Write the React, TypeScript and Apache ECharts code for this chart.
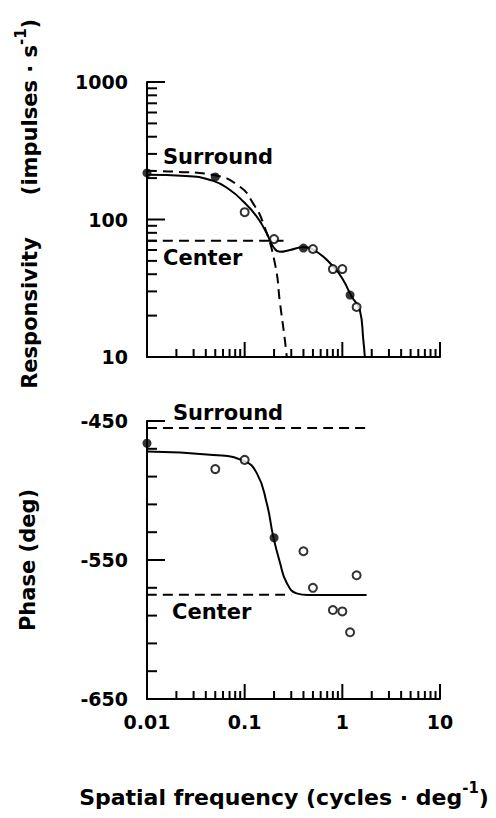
import { useEffect, useRef } from 'react';
import * as echarts from 'echarts';

// ---- data ----
const freq = [0.01, 0.05, 0.1, 0.2, 0.4, 0.5, 0.8, 1.0, 1.2, 1.4];
const respValues = [218, 204, 113, 72, 62, 61, 43.6, 43.6, 28.2, 23.1];
const respFilled = [true, true, false, false, true, false, false, false, true, false];
const phaseValues = [-466, -484.6, -478, -534, -543.7, -570, -586, -587, -602, -561];
const phaseFilled = [true, false, false, true, false, false, false, false, false, false];

const respFitX = [0.01, 0.025, 0.0477, 0.0708, 0.0968, 0.133, 0.168, 0.196, 0.23, 0.291, 0.398, 0.546, 0.808, 1.02, 1.245, 1.51, 1.64, 1.7];
const respFitY = [212, 207, 191, 164, 135, 105, 79.4, 63.4, 58.3, 60, 62.8, 58.3, 45.4, 36.3, 27.5, 22, 13.3, 10];
const respSurroundX = [0.01, 0.0185, 0.0475, 0.0895, 0.122, 0.155, 0.204, 0.23, 0.258, 0.27];
const respSurroundY = [226, 223, 211, 173, 131, 93.8, 48, 24.7, 13.3, 10];
const respCenterX = [0.01, 0.25];
const respCenterY = [70, 70];

const phaseFitX = [0.01, 0.0477, 0.0968, 0.133, 0.168, 0.196, 0.23, 0.269, 0.34, 0.45, 1.77];
const phaseFitY = [-472, -474.4, -478.5, -487.5, -509, -533, -552, -566.3, -574, -575.2, -575.2];
const phaseSurroundX = [0.01, 1.77];
const phaseSurroundY = [-455, -455];
const phaseCenterX = [0.01, 0.3];
const phaseCenterY = [-575, -575];

const freqTicks = [0.01, 0.1, 1, 10];
const freqTickLabels = ['0.01', '0.1', '1', '10'];
const freqMinorTicks = [0.02, 0.03, 0.04, 0.05, 0.06, 0.07, 0.08, 0.09, 0.2, 0.3, 0.4, 0.5, 0.6, 0.7, 0.8, 0.9, 2, 3, 4, 5, 6, 7, 8, 9];
const respTicks = [10, 100, 1000];
const respTickLabels = ['10', '100', '1000'];
const respMinorTicks = [20, 30, 40, 50, 60, 70, 80, 90, 200, 300, 400, 500, 600, 700, 800, 900];
const phaseTicks = [-650, -550, -450];
const phaseMinorTicks = [-630, -610, -590, -570, -530, -510, -490, -470];

const FONT = 'DejaVu Sans';
const BLACK = '#000';

const zip = (xs: number[], ys: number[]) => xs.map((x, i) => [x, ys[i]]);
const pick = (xs: number[], ys: number[], flags: boolean[], want: boolean) =>
  xs.map((x, i) => [x, ys[i]]).filter((_, i) => flags[i] === want);

const nearestLabel = (ticks: number[], labels: string[], v: number) => {
  let best = 0;
  let bd = Infinity;
  ticks.forEach((t, i) => {
    const d = Math.abs(Math.log10(Math.abs(t)) - Math.log10(Math.abs(v)));
    if (d < bd) { bd = d; best = i; }
  });
  return labels[best];
};

const tickRender = (_params: any, api: any) => {
  const p = api.coord([api.value(0), api.value(1)]);
  const vertical = api.value(2) === 0;
  const major = api.value(3) === 1;
  const len = vertical ? (major ? 15 : 8) : (major ? 18 : 10);
  return {
    type: 'line',
    shape: vertical
      ? { x1: p[0], y1: p[1], x2: p[0], y2: p[1] - len }
      : { x1: p[0], y1: p[1], x2: p[0] + len, y2: p[1] },
    style: { stroke: BLACK, lineWidth: 2 },
  };
};

export default function App() {
  const ref = useRef<HTMLDivElement>(null);
  useEffect(() => {
    if (!ref.current) return;
    const chart = echarts.init(ref.current, undefined, { renderer: 'svg' });

    const axisLine = { show: true, lineStyle: { color: BLACK, width: 2 } };
    const labelStyle = { color: BLACK, fontFamily: FONT, fontWeight: 'bold' as const, fontSize: 19 };

    const topTicks = [
      ...freqMinorTicks.map((v) => [v, respTicks[0], 0, 0]),
      ...freqTicks.slice(1).map((v) => [v, respTicks[0], 0, 1]),
      ...respMinorTicks.map((v) => [freqTicks[0], v, 1, 0]),
      ...respTicks.slice(1).map((v) => [freqTicks[0], v, 1, 1]),
    ];
    const bottomTicks = [
      ...freqMinorTicks.map((v) => [v, phaseTicks[0], 0, 0]),
      ...freqTicks.slice(1).map((v) => [v, phaseTicks[0], 0, 1]),
      ...phaseMinorTicks.map((v) => [freqTicks[0], v, 1, 0]),
      ...phaseTicks.slice(1).map((v) => [freqTicks[0], v, 1, 1]),
    ];

    const lineSeries = (data: number[][], gi: number, dashed: boolean) => ({
      type: 'line',
      xAxisIndex: gi,
      yAxisIndex: gi,
      data,
      smooth: 0.5,
      symbol: 'none',
      showSymbol: false,
      clip: false,
      lineStyle: { color: BLACK, width: 2, type: dashed ? [10, 6] : 'solid' },
      z: 3,
    });
    const scatterSeries = (data: number[][], gi: number, filled: boolean) => ({
      type: 'scatter',
      xAxisIndex: gi,
      yAxisIndex: gi,
      data,
      symbol: 'circle',
      symbolSize: filled ? 9 : 8,
      clip: false,
      itemStyle: filled
        ? { color: BLACK }
        : { color: '#fff', borderColor: BLACK, borderWidth: 2 },
      z: 5,
    });

    const txt = (text: string, x: number, y: number, size = 21) => ({
      type: 'text',
      x,
      y,
      style: { text, fill: BLACK, font: `bold ${size}px "${FONT}"`, align: 'left', verticalAlign: 'middle' },
    });
    const richTitle = (parts: string[], x: number, y: number, rotation: number, size = 21) => ({
      type: 'text',
      x,
      y,
      rotation,
      style: {
        text: `{t|${parts[0]}}{sup|${parts[1]}}{t|${parts[2]}}`,
        align: 'center',
        verticalAlign: 'middle',
        fill: BLACK,
        rich: {
          t: { fontFamily: FONT, fontWeight: 'bold', fontSize: size, fill: BLACK },
          sup: { fontFamily: FONT, fontWeight: 'bold', fontSize: 15, fill: BLACK, padding: [0, 0, 18, 0] },
        },
      },
    });

    chart.setOption({
      animation: false,
      backgroundColor: '#fff',
      grid: [
        { left: 147, top: 82, width: 293, height: 275, outerBoundsMode: 'none' },
        { left: 147, top: 421, width: 293, height: 278, outerBoundsMode: 'none' },
      ],
      xAxis: [
        {
          type: 'log', logBase: 10, gridIndex: 0, min: freqTicks[0], max: freqTicks[freqTicks.length - 1],
          axisLine, axisTick: { show: false }, axisLabel: { show: false }, splitLine: { show: false },
        },
        {
          type: 'log', logBase: 10, gridIndex: 1, min: freqTicks[0], max: freqTicks[freqTicks.length - 1],
          axisLine, axisTick: { show: false }, splitLine: { show: false },
          axisLabel: { ...labelStyle, margin: 13, showMinLabel: true, showMaxLabel: true,
            formatter: (v: number) => nearestLabel(freqTicks, freqTickLabels, v) },
        },
      ],
      yAxis: [
        {
          type: 'log', logBase: 10, gridIndex: 0, min: respTicks[0], max: respTicks[respTicks.length - 1],
          axisLine, axisTick: { show: false }, splitLine: { show: false },
          axisLabel: { ...labelStyle, margin: 19, showMinLabel: true, showMaxLabel: true,
            formatter: (v: number) => nearestLabel(respTicks, respTickLabels, v) },
        },
        {
          type: 'value', gridIndex: 1, min: phaseTicks[0], max: phaseTicks[phaseTicks.length - 1], interval: 100,
          axisLine, axisTick: { show: false }, splitLine: { show: false },
          axisLabel: { ...labelStyle, margin: 19, showMinLabel: true, showMaxLabel: true },
        },
      ],
      series: [
        { type: 'custom', xAxisIndex: 0, yAxisIndex: 0, data: topTicks, renderItem: tickRender, clip: false, silent: true, z: 2 },
        { type: 'custom', xAxisIndex: 1, yAxisIndex: 1, data: bottomTicks, renderItem: tickRender, clip: false, silent: true, z: 2 },
        lineSeries(zip(respFitX, respFitY), 0, false),
        lineSeries(zip(respSurroundX, respSurroundY), 0, true),
        lineSeries(zip(respCenterX, respCenterY), 0, true),
        scatterSeries(pick(freq, respValues, respFilled, true), 0, true),
        scatterSeries(pick(freq, respValues, respFilled, false), 0, false),
        lineSeries(zip(phaseFitX, phaseFitY), 1, false),
        lineSeries(zip(phaseSurroundX, phaseSurroundY), 1, true),
        lineSeries(zip(phaseCenterX, phaseCenterY), 1, true),
        scatterSeries(pick(freq, phaseValues, phaseFilled, true), 1, true),
        scatterSeries(pick(freq, phaseValues, phaseFilled, false), 1, false),
      ],
      graphic: [
        txt('Surround', 163, 157),
        txt('Center', 163, 258),
        txt('Surround', 173, 413),
        txt('Center', 172, 612),
        {
          type: 'text', x: 30, y: 313, rotation: Math.PI / 2,
          style: { text: 'Responsivity', fill: BLACK, font: `bold 21px "${FONT}"`, align: 'center', verticalAlign: 'middle' },
        },
        richTitle(['(impulses · s', '-1', ')'], 30, 107, Math.PI / 2),
        {
          type: 'text', x: 28, y: 560, rotation: Math.PI / 2,
          style: { text: 'Phase (deg)', fill: BLACK, font: `bold 21px "${FONT}"`, align: 'center', verticalAlign: 'middle' },
        },
        richTitle(['Spatial frequency (cycles · deg', '-1', ')'], 284, 797, 0, 22),
      ],
    });
    return () => chart.dispose();
  }, []);
  return <div ref={ref} style={{ position: 'absolute', left: 0, top: 0, width: 496, height: 818 }} />;
}
